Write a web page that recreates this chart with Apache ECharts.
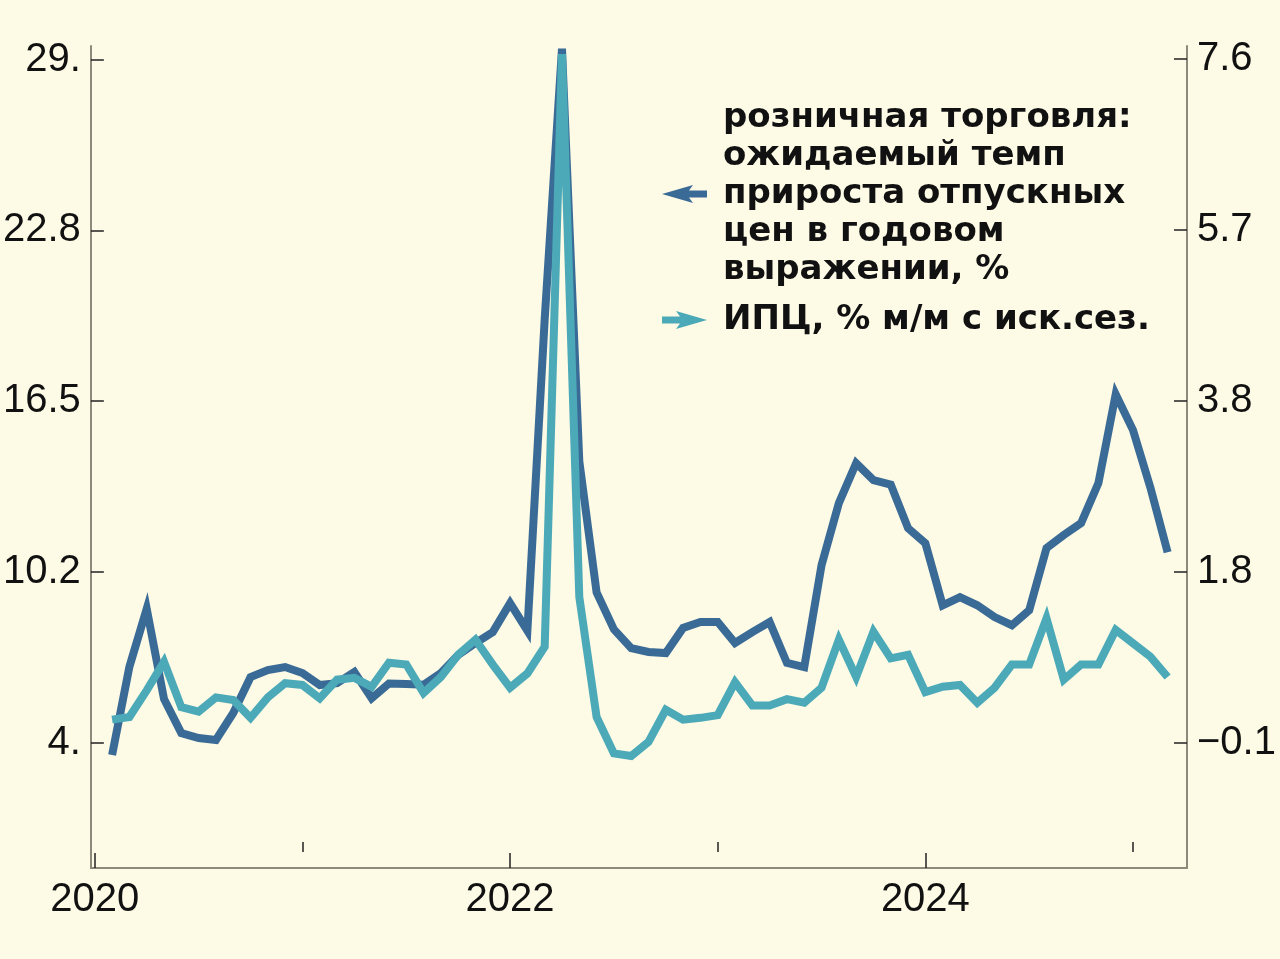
<!DOCTYPE html>
<html>
<head>
<meta charset="utf-8">
<script src="https://cdn.jsdelivr.net/npm/echarts@6/dist/echarts.min.js"></script>
<style>
html,body{margin:0;padding:0;background:#fdfae6;}
#chart{width:1280px;height:959px;}
</style>
</head>
<body>
<div id="chart"></div>
<script>
// Monthly observations, Jan 2020 .. Feb 2025
const startYear = 2020;
const monthCount = 62;

// Retail trade: expected growth rate of selling prices, annualized, % (left axis)
const retailExpected = [
  3.55, 6.78, 8.9, 5.6, 4.35, 4.17, 4.1, 5.09, 6.4, 6.66, 6.77, 6.55,
  6.11, 6.18, 6.59, 5.63, 6.17, 6.15, 6.12, 6.55, 7.21, 7.65, 8.05, 9.11,
  8.1, 19.5, 29.4, 14.3, 9.5, 8.15, 7.46, 7.32, 7.28, 8.2, 8.42, 8.42,
  7.65, 8.05, 8.42, 6.92, 6.77, 10.5, 12.77, 14.23, 13.61, 13.45, 11.85, 11.3,
  9.03, 9.33, 9.03, 8.6, 8.3, 8.85, 11.12, 11.6, 12.04, 13.5, 16.75, 15.44,
  13.35, 10.97
];

// CPI, % m/m seasonally adjusted (right axis)
const cpiMoM = [
  0.16, 0.19, 0.49, 0.81, 0.30, 0.25, 0.41, 0.38, 0.18, 0.41, 0.57, 0.55,
  0.40, 0.61, 0.63, 0.53, 0.80, 0.78, 0.46, 0.64, 0.89, 1.06, 0.78, 0.52,
  0.68, 0.98, 7.65, 1.54, 0.19, -0.22, -0.25, -0.09, 0.27, 0.16, 0.18, 0.21,
  0.58, 0.32, 0.32, 0.39, 0.35, 0.52, 1.06, 0.64, 1.15, 0.85, 0.89, 0.47,
  0.53, 0.55, 0.35, 0.52, 0.78, 0.78, 1.30, 0.61, 0.78, 0.78, 1.17, 1.02,
  0.87, 0.64
];

const seriesNames = [
  'розничная торговля:\nожидаемый темп\nприроста отпускных\nцен в годовом\nвыражении, %',
  'ИПЦ, % м/м с иск.сез.'
];

const xMajorTicks = [2020, 2022, 2024];
const xMajorLabels = ['2020', '2022', '2024'];
const xMinorTicks = [2021, 2023, 2025];

const leftTickValues = [4, 10.25, 16.5, 22.75, 29];
const leftTickLabels = ['4.', '10.2', '16.5', '22.8', '29.'];
const rightTickValues = [-0.1, 1.825, 3.75, 5.675, 7.6];
const rightTickLabels = ['\u22120.1', '1.8', '3.8', '5.7', '7.6'];

// month-end positions in fractional years
const xs = [];
for (let i = 0; i < monthCount; i++) xs.push(startYear + (i + 1) / 12);

function labelFor(values, labels) {
  return function (v) {
    for (let i = 0; i < values.length; i++) {
      if (Math.abs(values[i] - v) < 1e-6) return labels[i];
    }
    return '';
  };
}

const darkBlue = '#3a6b96';
const teal = '#4ba9b8';
const axisColor = '#8c8a7a';
const tickColor = '#222';
const labelFont = {color: '#111', fontSize: 40, fontFamily: 'Liberation Sans, Arial, sans-serif'};

const chart = echarts.init(document.getElementById('chart'), null, {renderer: 'canvas'});
chart.setOption({
  backgroundColor: '#fdfae6',
  animation: false,
  grid: {left: 89, right: 93, top: 46, bottom: 91, containLabel: false},
  legend: {
    orient: 'vertical',
    left: 657,
    top: 94,
    itemGap: 12,
    itemWidth: 45,
    itemHeight: 18,
    selectedMode: false,
    data: [
      {name: seriesNames[0], icon: 'path://M0,9 L31,0 L27,5.5 L45,5.5 L45,12.5 L27,12.5 L31,18 Z', itemStyle: {color: darkBlue}},
      {name: seriesNames[1], icon: 'path://M45,9 L14,0 L18,5.5 L0,5.5 L0,12.5 L18,12.5 L14,18 Z', itemStyle: {color: teal}}
    ],
    textStyle: {
      color: '#111',
      fontSize: 34,
      fontWeight: 'bold',
      fontFamily: '"DejaVu Sans", sans-serif',
      lineHeight: 38,
      padding: [0, 0, 0, 11]
    }
  },
  xAxis: [
    {
      type: 'value',
      min: 2019.981,
      max: 2025.26,
      position: 'bottom',
      axisLine: {show: true, onZero: false, lineStyle: {color: axisColor, width: 2}},
      axisTick: {show: true, inside: true, length: 15, customValues: xMajorTicks, lineStyle: {color: tickColor, width: 1.5}},
      axisLabel: {show: true, customValues: xMajorTicks, formatter: labelFor(xMajorTicks, xMajorLabels), margin: 12, ...labelFont},
      splitLine: {show: false}
    },
    {
      type: 'value',
      min: 2019.981,
      max: 2025.26,
      position: 'bottom',
      axisLine: {show: false},
      axisTick: {show: true, inside: true, length: 10, customValues: xMinorTicks, lineStyle: {color: tickColor, width: 1.5}},
      axisLabel: {show: false},
      splitLine: {show: false}
    }
  ],
  yAxis: [
    {
      type: 'value',
      position: 'left',
      min: -0.584,
      max: 29.4975,
      axisLine: {show: true, onZero: false, lineStyle: {color: axisColor, width: 2}},
      axisTick: {show: true, inside: true, length: 13, customValues: leftTickValues, lineStyle: {color: tickColor, width: 1.5}},
      axisLabel: {show: true, customValues: leftTickValues, formatter: labelFor(leftTickValues, leftTickLabels), margin: 10, ...labelFont},
      splitLine: {show: false}
    },
    {
      type: 'value',
      position: 'right',
      min: -1.510,
      max: 7.742,
      axisLine: {show: true, onZero: false, lineStyle: {color: axisColor, width: 2}},
      axisTick: {show: true, inside: true, length: 13, customValues: rightTickValues, lineStyle: {color: tickColor, width: 1.5}},
      axisLabel: {show: true, customValues: rightTickValues, formatter: labelFor(rightTickValues, rightTickLabels), margin: 10, ...labelFont},
      splitLine: {show: false}
    }
  ],
  series: [
    {
      name: seriesNames[0],
      type: 'line',
      xAxisIndex: 0,
      yAxisIndex: 0,
      data: xs.map((x, i) => [x, retailExpected[i]]),
      showSymbol: false,
      symbol: 'none',
      clip: true,
      lineStyle: {color: darkBlue, width: 8, join: 'miter', miterLimit: 10, cap: 'butt'},
      itemStyle: {color: darkBlue},
      z: 2
    },
    {
      name: seriesNames[1],
      type: 'line',
      xAxisIndex: 0,
      yAxisIndex: 1,
      data: xs.map((x, i) => [x, cpiMoM[i]]),
      showSymbol: false,
      symbol: 'none',
      clip: true,
      lineStyle: {color: teal, width: 8, join: 'miter', miterLimit: 10, cap: 'butt'},
      itemStyle: {color: teal},
      z: 3
    }
  ]
});
</script>
</body>
</html>
